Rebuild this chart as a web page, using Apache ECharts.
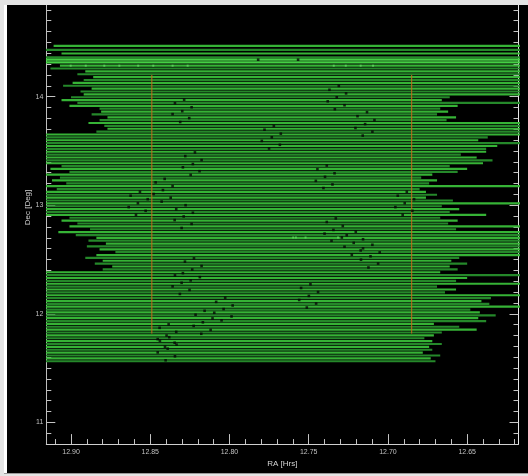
<!DOCTYPE html>
<html><head><meta charset="utf-8">
<script src="https://cdn.jsdelivr.net/npm/echarts@6/dist/echarts.min.js"></script>
<style>
html,body{margin:0;padding:0;background:#e4e4e4;width:528px;height:476px;overflow:hidden;}
#edge{position:absolute;left:4px;top:5px;width:3px;height:468px;background:#ffffff;}
#c{position:absolute;left:7px;top:5px;width:521px;height:468px;background:#000;}
#bl{position:absolute;left:4px;top:473px;width:524px;height:1px;background:#9a9a9a;}
</style></head><body>
<div id="edge"></div><div id="c"></div><div id="bl"></div>
<script>
// Scan lines: declination (deg) and RA extent (hrs)
const scanDec = [14.469,14.432,14.398,14.362,14.341,14.316,
14.286,14.260,14.233,14.207,14.181,14.154,14.128,14.101,14.075,14.048,
14.022,13.995,13.969,13.943,13.916,13.890,13.863,13.837,13.810,13.784,
13.758,13.731,13.705,13.678,13.652,13.625,13.599,13.572,13.546,13.520,
13.493,13.467,13.440,13.414,13.387,13.361,13.335,13.308,13.282,13.255,
13.229,13.202,13.176,13.149,13.123,13.097,13.070,13.044,13.017,12.991,
12.964,12.938,12.912,12.885,12.859,12.832,12.806,12.779,12.753,12.726,
12.700,12.674,12.647,12.621,12.594,12.568,12.541,12.515,12.489,12.462,
12.436,12.409,12.383,12.356,12.330,12.303,12.277,12.251,12.224,12.198,
12.171,12.145,12.118,12.092,12.066,12.039,12.013,11.986,11.960,11.933,
11.907,11.881,11.854,11.828,11.801,11.775,11.748,11.722,11.695,11.669,
11.643,11.616,11.590,11.563];
const scanRaStart = [12.911,12.92,12.906,12.92,12.92,12.92,
12.907,12.913,12.891,12.896,12.886,12.892,12.899,12.905,12.887,12.894,
12.892,12.900,12.906,12.896,12.901,12.882,12.881,12.887,12.877,12.882,
12.889,12.879,12.877,12.884,12.92,12.92,12.92,12.92,12.92,12.92,
12.92,12.92,12.92,12.92,12.92,12.906,12.913,12.901,12.92,12.907,
12.912,12.903,12.92,12.909,12.92,12.92,12.92,12.92,12.92,12.92,
12.92,12.92,12.92,12.901,12.906,12.896,12.901,12.888,12.908,12.897,
12.884,12.889,12.878,12.890,12.882,12.872,12.884,12.891,12.880,12.885,
12.874,12.880,12.92,12.92,12.92,12.92,12.92,12.92,12.92,12.92,
12.92,12.92,12.92,12.92,12.92,12.92,12.92,12.92,12.92,12.92,
12.92,12.92,12.92,12.92,12.92,12.92,12.92,12.92,12.92,12.92,
12.92,12.92,12.92,12.92];
const scanRaEnd = [12.61,12.61,12.61,12.61,12.61,12.61,
12.61,12.61,12.61,12.61,12.61,12.61,12.61,12.61,12.61,12.61,
12.61,12.661,12.666,12.61,12.656,12.667,12.662,12.669,12.657,12.663,
12.61,12.61,12.61,12.61,12.61,12.637,12.643,12.61,12.631,12.638,
12.638,12.654,12.644,12.634,12.640,12.661,12.650,12.656,12.672,12.679,
12.669,12.674,12.61,12.680,12.676,12.669,12.676,12.659,12.61,12.666,
12.655,12.661,12.638,12.667,12.656,12.662,12.61,12.657,12.61,12.61,
12.61,12.61,12.61,12.61,12.61,12.61,12.61,12.655,12.660,12.650,
12.661,12.656,12.667,12.61,12.650,12.657,12.61,12.669,12.657,12.664,
12.61,12.635,12.641,12.636,12.61,12.648,12.642,12.632,12.643,12.638,
12.671,12.655,12.644,12.666,12.671,12.677,12.672,12.666,12.674,12.672,
12.678,12.667,12.673,12.670];

// Source positions (black dots)
const dotRa = [12.8286,12.8344,12.8239,12.8298,12.8359,12.8254,12.8311,12.7779,12.7796,12.7750,
12.8218,12.8279,12.8176,12.8231,12.8294,12.8189,12.8245,12.8409,12.8466,12.8359,
12.8420,12.8565,12.8479,12.8624,12.8371,12.8516,12.8428,12.8578,12.8277,12.8636,
12.8336,12.8529,12.8231,12.8590,12.8289,12.8346,12.8239,12.8302,12.8224,12.8281,
12.8176,12.8235,12.8294,12.8344,12.8187,12.8245,12.8302,12.8359,12.8252,12.8313,
12.8027,12.8084,12.7980,12.8037,12.8157,12.8096,12.8214,12.7987,12.8107,12.8050,
12.8168,12.8384,12.8226,12.8441,12.8119,12.8336,12.8178,12.8397,12.8380,12.8453,
12.8439,12.8346,12.8334,12.8407,12.8390,12.8453,12.8344,12.8403,
12.7310,12.7369,12.7264,12.7323,12.7380,12.7274,12.7335,12.7132,12.7192,12.7085,
12.7144,12.7720,12.7205,12.7098,12.7676,12.7159,12.7733,12.7682,12.7386,12.7445,
12.7337,12.7397,12.7455,12.7350,12.7407,12.6881,12.6938,12.6835,12.6894,12.6953,
12.6846,12.6907,12.7329,12.7386,12.7285,12.7344,12.7203,12.7400,12.7260,12.7291,
12.7157,12.7356,12.7216,12.7098,12.7274,12.7157,12.7172,12.7052,12.7228,12.7110,
12.7170,12.7062,12.7123,12.7489,12.7548,12.7441,12.7499,12.7560,12.7453,12.7512,
12.7819,12.7567];
const dotDec = [13.973,13.940,13.903,13.867,13.840,13.803,13.767,13.696,13.593,13.523,
13.487,13.453,13.417,13.380,13.350,13.314,13.280,13.243,13.211,13.177,
13.140,13.125,13.104,13.088,13.070,13.056,13.034,13.019,13.001,12.983,
12.964,12.949,12.931,12.912,12.897,12.864,12.828,12.791,12.511,12.481,
12.441,12.408,12.375,12.354,12.338,12.308,12.286,12.253,12.220,12.183,
12.149,12.110,12.077,12.044,12.028,12.010,11.992,11.976,11.958,11.940,
11.922,11.903,11.889,11.871,11.852,11.834,11.816,11.800,11.785,11.767,
11.752,11.734,11.716,11.697,11.679,11.645,11.609,11.572,
14.100,14.064,14.031,13.995,13.958,13.922,13.885,13.858,13.821,13.785,
13.748,13.730,13.712,13.678,13.660,13.642,13.626,13.557,13.366,13.332,
13.295,13.262,13.225,13.192,13.159,13.125,13.088,13.056,13.019,12.983,
12.949,12.912,12.879,12.846,12.809,12.773,12.757,12.739,12.724,12.703,
12.687,12.673,12.654,12.636,12.618,12.603,12.584,12.566,12.545,12.530,
12.499,12.463,12.427,12.272,12.238,12.201,12.165,12.128,12.095,12.058,
14.341,14.341];

// Small green markers on scan lines
const markRa = [12.9002,12.8907,12.8790,12.8695,12.8576,12.8481,12.8359,12.8264,12.7342,12.7266,12.7172,12.7094,12.7598,12.7581,12.7520,12.7315];
const markDec = [14.286,14.286,14.286,14.286,14.286,14.286,14.286,14.286,14.286,14.286,14.286,14.286,12.703,12.703,12.703,12.703];

// Field boundary (orange vertical lines)
const boxRa = [12.849, 12.685];
const boxDec = [11.818, 14.201];

// Axes
const raRange = [12.6176, 12.9156];
const decRange = [10.8, 14.845];
const raTicks = [12.90, 12.85, 12.80, 12.75, 12.70, 12.65];
const decTicks = [11, 12, 13, 14];
const raMinor = [];
for (let i = 62; i <= 91; i++) if (i % 5 !== 0) raMinor.push(Math.round((12 + i / 100) * 100) / 100);
const decMinor = [];
for (let i = 109; i <= 148; i++) if (i % 10 !== 0) decMinor.push(i / 10);

const tickCol = '#c4c4c4';
const labelFont = 'Liberation Sans';
function xAx(extra) {
  return Object.assign({type:'value', inverse:true, min:raRange[0], max:raRange[1], position:'bottom',
    splitLine:{show:false}, axisLine:{show:false}, axisLabel:{show:false}}, extra);
}
function yAx(pos, extra) {
  return Object.assign({type:'value', min:decRange[0], max:decRange[1], position:pos,
    splitLine:{show:false}, axisLine:{show:false}, axisLabel:{show:false}}, extra);
}

const chart = echarts.init(document.getElementById('c'), null, {renderer:'canvas'});
const lineColors = ['#36b336', '#25882a'];
chart.setOption({
  backgroundColor: '#000',
  animation: false,
  grid: {left: 39.3, right: 9.5, top: 0, bottom: 24, containLabel: false},
  xAxis: [
    xAx({axisLine:{show:true, lineStyle:{color:'#cfcfcf', width:1}},
      axisTick:{show:true, inside:true, length:10, customValues:raTicks, lineStyle:{color:tickCol}},
      axisLabel:{show:true, customValues:raTicks, formatter:v => v.toFixed(2), color:'#c0c0c0', fontSize:7, fontFamily:labelFont, margin:4},
      name:'RA [Hrs]', nameLocation:'middle', nameGap:13,
      nameTextStyle:{color:'#d4d4d4', fontSize:8, fontFamily:labelFont}}),
    xAx({axisTick:{show:true, inside:true, length:5, customValues:raMinor, lineStyle:{color:tickCol}}})
  ],
  yAxis: [
    yAx('left', {axisLine:{show:true, lineStyle:{color:'#bdbdbd', width:1}},
      axisTick:{show:true, inside:true, length:9, customValues:decTicks, lineStyle:{color:tickCol}},
      axisLabel:{show:true, customValues:decTicks, color:'#c0c0c0', fontSize:7, fontFamily:labelFont, margin:3}}),
    yAx('left', {axisTick:{show:true, inside:true, length:5, customValues:decMinor, lineStyle:{color:tickCol}}}),
    yAx('right', {axisLine:{show:true, lineStyle:{color:'#e8e8e8', width:1}},
      axisTick:{show:true, inside:true, length:9, customValues:decTicks, lineStyle:{color:tickCol}}}),
    yAx('right', {axisTick:{show:true, inside:true, length:5, customValues:decMinor, lineStyle:{color:tickCol}}})
  ],
  graphic: [{type:'text', x:21, y:202.5, rotation:Math.PI/2,
    style:{text:'Dec [Deg]', fill:'#d4d4d4', font:'8px "Liberation Sans"', align:'center', verticalAlign:'middle'}}],
  series: [
    {
      type:'custom', name:'scans', xAxisIndex:0, yAxisIndex:0, clip:true, silent:true, z:1,
      dimensions:['raStart','raEnd','dec'], encode:{x:[0,1], y:2},
      data: scanDec.map((d, i) => [scanRaStart[i], scanRaEnd[i], d]),
      renderItem: (params, api) => {
        const a = api.coord([api.value(0), api.value(2)]);
        const b = api.coord([api.value(1), api.value(2)]);
        const i = params.dataIndex;
        let c = lineColors[i % 2];
        if (i === 4 || i === 5) c = '#44d044';
        return {type:'line', shape:{x1:a[0], y1:a[1], x2:b[0], y2:b[1]}, style:{stroke:c, lineWidth:2.2}};
      }
    },
    {
      type:'custom', name:'field', xAxisIndex:0, yAxisIndex:0, clip:true, silent:true, z:3,
      dimensions:['ra','dec0','dec1'], encode:{x:0, y:[1,2]},
      data: boxRa.map(r => [r, boxDec[0], boxDec[1]]),
      renderItem: (params, api) => {
        const a = api.coord([api.value(0), api.value(1)]);
        const b = api.coord([api.value(0), api.value(2)]);
        return {type:'line', shape:{x1:a[0], y1:a[1], x2:b[0], y2:b[1]}, style:{stroke:'#c46a1c', lineWidth:1}};
      }
    },
    {
      type:'scatter', name:'sources', xAxisIndex:0, yAxisIndex:0, silent:true, z:4,
      symbol:'rect', symbolSize:2.6, itemStyle:{color:'#050805'},
      data: dotRa.map((r, i) => [r, dotDec[i]])
    },
    {
      type:'scatter', name:'marks', xAxisIndex:0, yAxisIndex:0, silent:true, z:4,
      symbol:'rect', symbolSize:2, itemStyle:{color:'#62d862'},
      data: markRa.map((r, i) => [r, markDec[i]])
    }
  ]
});
</script>
</body></html>
